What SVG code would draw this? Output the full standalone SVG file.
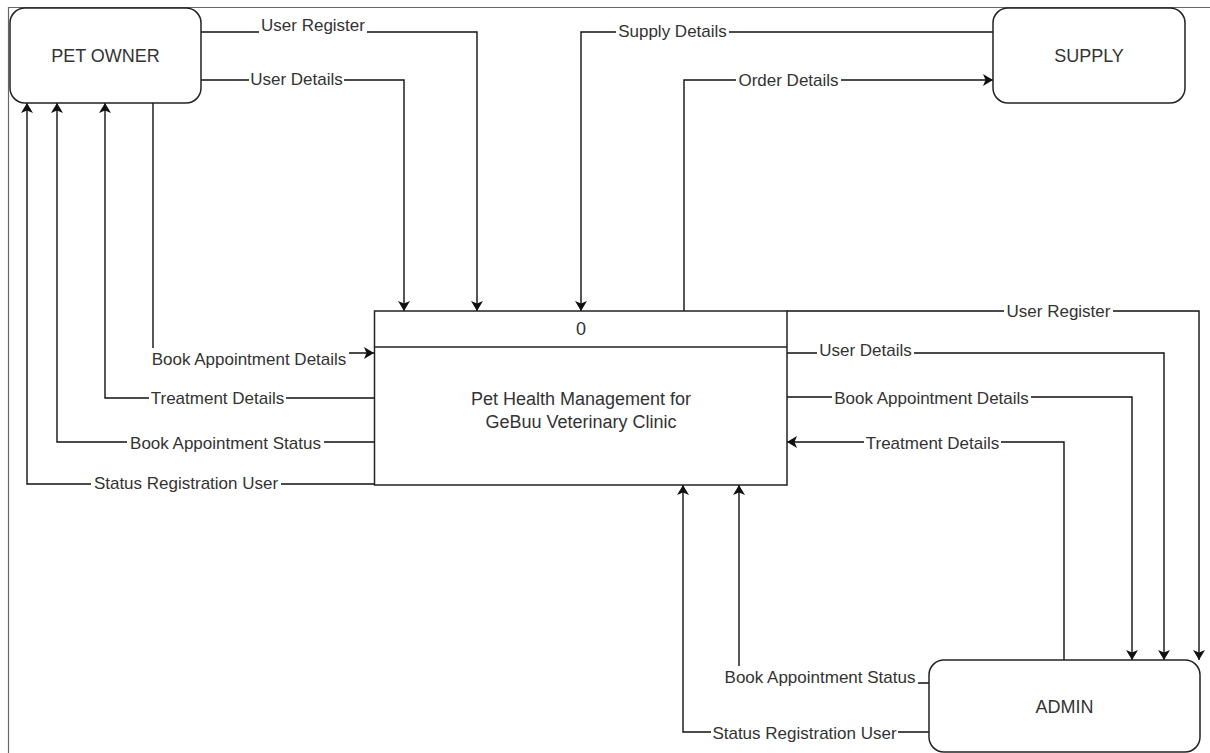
<svg xmlns="http://www.w3.org/2000/svg" width="1210" height="753" viewBox="0 0 1210 753">
  <style>
    .frame { stroke: #666; stroke-width: 1.2; fill: none; }
    .entity { fill: #fff; stroke: #222; stroke-width: 1.5; }
    .process { fill: #fff; stroke: #222; stroke-width: 1.5; }
    .flow { fill: none; stroke: #111; stroke-width: 1.4; }
    .arrow { fill: none; stroke: #111; stroke-width: 1.4; marker-end: url(#head); }
    .node-text { font-family: "Liberation Sans", Arial, sans-serif; font-size: 18px; fill: #333; text-anchor: middle; }
    .lbl-bg { fill: #fff; }
    .lbl { font-family: "Liberation Sans", Arial, sans-serif; font-size: 17px; fill: #333; text-anchor: middle; }
  </style>
  <defs>
    <marker id="head" markerUnits="userSpaceOnUse" viewBox="0 0 10 12" markerWidth="10" markerHeight="12" refX="10" refY="6" orient="auto">
      <path d="M0,0 L10,6 L0,12 L2.5,6 Z" fill="#111"/>
    </marker>
  </defs>

  <rect width="1210" height="753" fill="#fff"/>

  <!-- page frame -->
  <path class="frame" d="M8.5,753 V7.5 H1210"/>

  <!-- data flows -->
  <g id="connectors">
    <path class="arrow" d="M201,32 H477 V311"/>
    <path class="arrow" d="M201,80 H404 V311"/>
    <path class="arrow" d="M153,103 V353 H374"/>
    <path class="arrow" d="M374,398 H105 V103"/>
    <path class="arrow" d="M374,442 H57 V103"/>
    <path class="arrow" d="M374,484 H27 V103"/>
    <path class="arrow" d="M993,32 H581 V311"/>
    <path class="arrow" d="M684,311 V80 H993"/>
    <path class="arrow" d="M787,311 H1199 V660"/>
    <path class="arrow" d="M787,353 H1164 V660"/>
    <path class="arrow" d="M787,397 H1132 V660"/>
    <path class="arrow" d="M1064,660 V442 H787"/>
    <path class="arrow" d="M929,683 H739 V485"/>
    <path class="arrow" d="M929,732 H683 V485"/>
  </g>

  <!-- flow labels -->
  <g id="flow-labels">
    <rect class="lbl-bg" x="259" y="14" width="108" height="21"/>
    <text class="lbl" x="313" y="31">User Register</text>
    <rect class="lbl-bg" x="249" y="68" width="95" height="21"/>
    <text class="lbl" x="296.5" y="85">User Details</text>
    <rect class="lbl-bg" x="616" y="20" width="113" height="21"/>
    <text class="lbl" x="672.5" y="37">Supply Details</text>
    <rect class="lbl-bg" x="736" y="69" width="105" height="21"/>
    <text class="lbl" x="788.5" y="86">Order Details</text>
    <rect class="lbl-bg" x="149" y="348" width="200" height="21"/>
    <text class="lbl" x="249" y="365">Book Appointment Details</text>
    <rect class="lbl-bg" x="149" y="387" width="137" height="21"/>
    <text class="lbl" x="217.5" y="404">Treatment Details</text>
    <rect class="lbl-bg" x="127" y="432" width="197" height="21"/>
    <text class="lbl" x="225.5" y="449">Book Appointment Status</text>
    <rect class="lbl-bg" x="91" y="472" width="190" height="21"/>
    <text class="lbl" x="186" y="489">Status Registration User</text>
    <rect class="lbl-bg" x="1004" y="300" width="109" height="21"/>
    <text class="lbl" x="1058.5" y="317">User Register</text>
    <rect class="lbl-bg" x="817" y="339" width="97" height="21"/>
    <text class="lbl" x="865.5" y="356">User Details</text>
    <rect class="lbl-bg" x="832" y="387" width="199" height="21"/>
    <text class="lbl" x="931.5" y="404">Book Appointment Details</text>
    <rect class="lbl-bg" x="864" y="432" width="137" height="21"/>
    <text class="lbl" x="932.5" y="449">Treatment Details</text>
    <rect class="lbl-bg" x="722" y="666" width="196" height="21"/>
    <text class="lbl" x="820" y="683">Book Appointment Status</text>
    <rect class="lbl-bg" x="711" y="722" width="187" height="21"/>
    <text class="lbl" x="804.5" y="739">Status Registration User</text>
  </g>

  <!-- external entities -->
  <g id="pet-owner">
    <rect class="entity" x="10" y="8" width="191" height="95" rx="15" ry="15"/>
    <text class="node-text" x="105.5" y="62">PET OWNER</text>
  </g>
  <g id="supply">
    <rect class="entity" x="993" y="8" width="192" height="95" rx="15" ry="15"/>
    <text class="node-text" x="1089" y="62">SUPPLY</text>
  </g>
  <g id="admin">
    <rect class="entity" x="929" y="660" width="271" height="92" rx="15" ry="15"/>
    <text class="node-text" x="1064.5" y="713">ADMIN</text>
  </g>

  <!-- process 0 -->
  <g id="process-0">
    <rect class="process" x="374.5" y="311" width="412.5" height="174"/>
    <line class="process" x1="374.5" y1="347" x2="787" y2="347"/>
    <text class="node-text" x="581" y="335">0</text>
    <text class="node-text" x="581" y="405">Pet Health Management for</text>
    <text class="node-text" x="581" y="428">GeBuu Veterinary Clinic</text>
  </g>
</svg>
